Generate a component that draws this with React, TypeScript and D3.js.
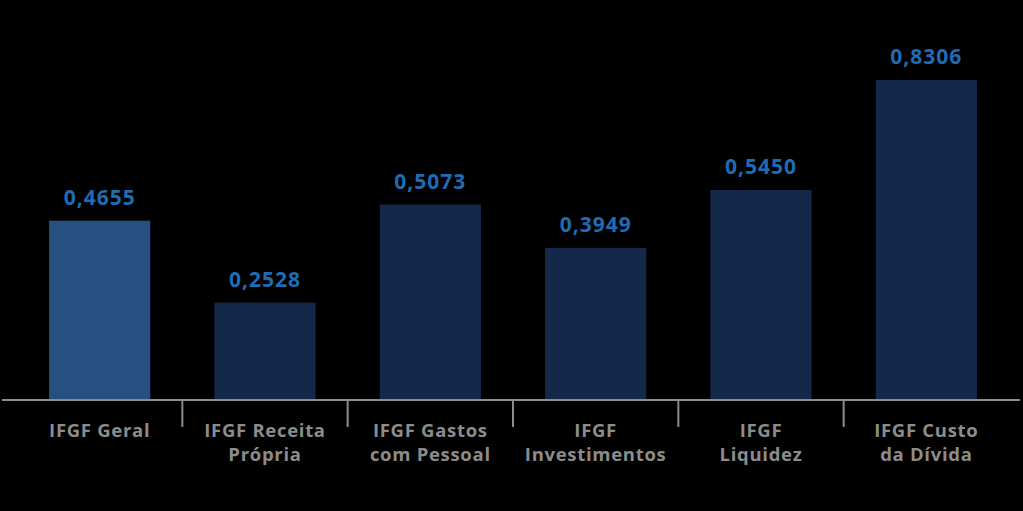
import React from "react";
import * as d3 from "d3";

const categories: string[][] = [
  ["IFGF Geral"],
  ["IFGF Receita", "Própria"],
  ["IFGF Gastos", "com Pessoal"],
  ["IFGF", "Investimentos"],
  ["IFGF", "Liquidez"],
  ["IFGF Custo", "da Dívida"],
];
const values: number[] = [0.4655, 0.2528, 0.5073, 0.3949, 0.545, 0.8306];
const valueLabels: string[] = ["0,4655", "0,2528", "0,5073", "0,3949", "0,5450", "0,8306"];

const W = 1023;
const H = 511;
const baseY = 400;
const font = "'Open Sans', 'Noto Sans', sans-serif";

export default function App() {
  const keys = categories.map((c) => c.join(" "));
  const x = d3.scaleBand<string>().domain(keys).range([17, 1009]).paddingInner(0.388).paddingOuter(0.194);
  const y = d3.scaleLinear().domain([0, 0.8306]).range([baseY, 80]);
  const boundaries = keys.slice(1).map((k) => (x(k) as number) - (x.step() * x.paddingInner()) / 2);

  return (
    <svg width={W} height={H} style={{ position: "absolute", left: 0, top: 0, background: "#000" }}>
      <rect x={0} y={0} width={W} height={H} fill="#000" />
      {values.map((v, i) => {
        const bx = x(keys[i]) as number;
        const bw = x.bandwidth();
        const cx = bx + bw / 2;
        return (
          <g key={keys[i]}>
            <rect x={bx} y={y(v)} width={bw} height={baseY - y(v)} fill={i === 0 ? "#25507f" : "#14294a"} />
            <text
              x={cx}
              y={y(v) - 16}
              textAnchor="middle"
              fill="#1f6cb4"
              fontFamily={font}
              fontWeight={700}
              fontSize={21}
              letterSpacing={1}
            >
              {valueLabels[i]}
            </text>
            {categories[i].map((line, j) => (
              <text
                key={j}
                x={cx}
                y={437 + j * 24}
                textAnchor="middle"
                fill="#8c8c8c"
                fontFamily={font}
                fontWeight={700}
                fontSize={18.5}
                letterSpacing={0.7}
              >
                {line}
              </text>
            ))}
          </g>
        );
      })}
      <line x1={2} x2={1020} y1={baseY} y2={baseY} stroke="#8c8c8c" strokeWidth={2} />
      {boundaries.map((bx, i) => (
        <line key={i} x1={bx} x2={bx} y1={baseY} y2={427} stroke="#8c8c8c" strokeWidth={2} />
      ))}
    </svg>
  );
}
